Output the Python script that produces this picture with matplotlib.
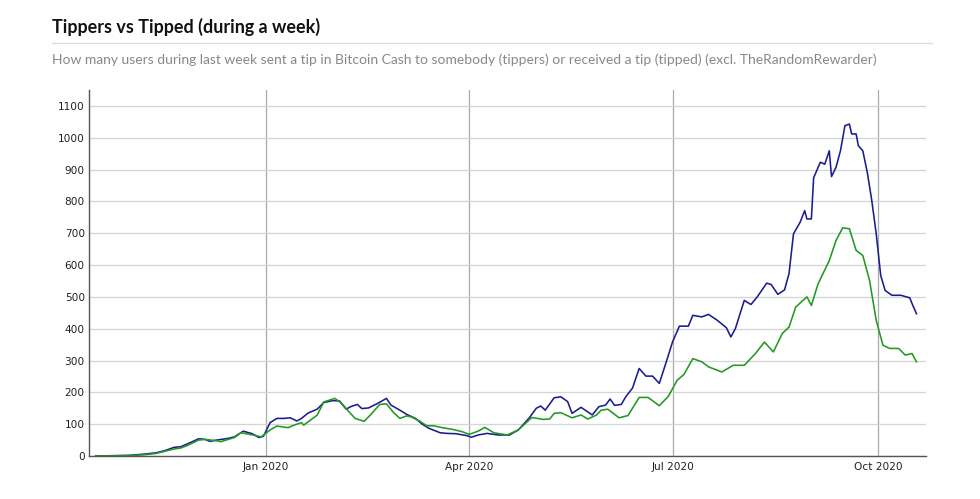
import pandas as pd
import matplotlib.pyplot as plt

# ==========================================
# DATA
# ==========================================
tippers_dates = [
    "2019-10-17", "2019-11-01", "2019-11-08", "2019-11-13", "2019-11-17", "2019-11-21",
    "2019-11-24", "2019-11-27", "2019-12-02", "2019-12-05", "2019-12-07", "2019-12-11",
    "2019-12-15", "2019-12-18", "2019-12-22", "2019-12-26", "2019-12-29", "2019-12-31",
    "2020-01-03", "2020-01-06", "2020-01-09", "2020-01-12", "2020-01-15", "2020-01-17",
    "2020-01-20", "2020-01-24", "2020-01-27", "2020-01-31", "2020-02-03", "2020-02-06",
    "2020-02-08", "2020-02-11", "2020-02-13", "2020-02-16", "2020-02-20", "2020-02-24",
    "2020-02-26", "2020-03-01", "2020-03-04", "2020-03-08", "2020-03-11", "2020-03-14",
    "2020-03-19", "2020-03-22", "2020-03-26", "2020-03-31", "2020-04-02", "2020-04-05",
    "2020-04-09", "2020-04-14", "2020-04-19", "2020-04-23", "2020-04-28", "2020-05-01",
    "2020-05-03", "2020-05-05", "2020-05-09", "2020-05-12", "2020-05-15", "2020-05-17",
    "2020-05-21", "2020-05-26", "2020-05-29", "2020-06-01", "2020-06-03", "2020-06-05",
    "2020-06-08", "2020-06-10", "2020-06-13", "2020-06-16", "2020-06-19", "2020-06-22",
    "2020-06-25", "2020-06-28", "2020-07-01", "2020-07-04", "2020-07-08", "2020-07-10",
    "2020-07-14", "2020-07-17", "2020-07-21", "2020-07-25", "2020-07-27", "2020-07-29",
    "2020-08-02", "2020-08-05", "2020-08-08", "2020-08-12", "2020-08-14", "2020-08-17",
    "2020-08-20", "2020-08-22", "2020-08-24", "2020-08-27", "2020-08-29", "2020-08-30",
    "2020-09-01", "2020-09-02", "2020-09-05", "2020-09-07", "2020-09-09", "2020-09-10",
    "2020-09-12", "2020-09-14", "2020-09-16", "2020-09-18", "2020-09-19", "2020-09-21",
    "2020-09-22", "2020-09-24", "2020-09-26", "2020-09-28", "2020-09-30", "2020-10-02",
    "2020-10-04", "2020-10-07", "2020-10-11", "2020-10-15", "2020-10-16", "2020-10-18",
]
tippers_values = [
    0, 2, 6, 10, 17, 27,
    29, 38, 54, 52, 46, 51,
    55, 60, 78, 70, 58, 62,
    105, 118, 118, 120, 110, 118,
    135, 147, 168, 174, 173, 147,
    155, 162, 149, 151, 165, 181,
    160, 144, 131, 118, 100, 87,
    73, 71, 70, 64, 59, 66,
    71, 66, 66, 82, 121, 150,
    157, 144, 183, 186, 171, 134,
    153, 129, 155, 160, 179, 159,
    162, 186, 213, 275, 251, 251,
    228, 293, 360, 408, 408, 442,
    437, 445, 426, 403, 374, 400,
    489, 476, 502, 543, 539, 508,
    522, 573, 698, 735, 771, 745,
    745, 874, 923, 917, 959, 878,
    907, 959, 1038, 1043, 1012, 1012,
    975, 959, 891, 803, 698, 567,
    520, 505, 505, 497, 479, 447,
]

tipped_dates = [
    "2019-10-17", "2019-11-01", "2019-11-08", "2019-11-13", "2019-11-17", "2019-11-21",
    "2019-11-24", "2019-11-27", "2019-12-02", "2019-12-05", "2019-12-10", "2019-12-12",
    "2019-12-18", "2019-12-21", "2019-12-27", "2019-12-30", "2020-01-03", "2020-01-06",
    "2020-01-11", "2020-01-13", "2020-01-17", "2020-01-18", "2020-01-22", "2020-01-24",
    "2020-01-27", "2020-02-01", "2020-02-04", "2020-02-07", "2020-02-10", "2020-02-14",
    "2020-02-17", "2020-02-21", "2020-02-24", "2020-02-27", "2020-03-01", "2020-03-04",
    "2020-03-06", "2020-03-10", "2020-03-13", "2020-03-16", "2020-03-20", "2020-03-25",
    "2020-03-29", "2020-04-01", "2020-04-05", "2020-04-08", "2020-04-12", "2020-04-18",
    "2020-04-23", "2020-04-29", "2020-05-04", "2020-05-07", "2020-05-09", "2020-05-12",
    "2020-05-17", "2020-05-21", "2020-05-24", "2020-05-28", "2020-05-30", "2020-06-02",
    "2020-06-07", "2020-06-11", "2020-06-16", "2020-06-20", "2020-06-25", "2020-06-29",
    "2020-07-03", "2020-07-06", "2020-07-10", "2020-07-14", "2020-07-17", "2020-07-23",
    "2020-07-28", "2020-08-02", "2020-08-07", "2020-08-11", "2020-08-15", "2020-08-19",
    "2020-08-22", "2020-08-25", "2020-08-30", "2020-09-01", "2020-09-04", "2020-09-09",
    "2020-09-12", "2020-09-15", "2020-09-18", "2020-09-21", "2020-09-24", "2020-09-27",
    "2020-09-30", "2020-10-03", "2020-10-06", "2020-10-10", "2020-10-13", "2020-10-16",
    "2020-10-18",
]
tipped_values = [
    0, 1, 4, 8, 15, 22,
    25, 33, 50, 52, 48, 45,
    58, 73, 65, 60, 82, 94,
    89, 95, 105, 97, 118, 128,
    170, 181, 165, 141, 118, 109,
    130, 162, 164, 138, 118, 126,
    123, 109, 95, 95, 89, 83,
    76, 68, 78, 90, 73, 66,
    82, 121, 115, 116, 134, 136,
    120, 129, 116, 129, 144, 147,
    120, 127, 184, 184, 158, 187,
    238, 256, 306, 296, 280, 264,
    285, 285, 322, 358, 327, 385,
    405, 468, 500, 473, 541, 614,
    677, 717, 714, 646, 630, 552,
    426, 348, 338, 338, 317, 322,
    296,
]

x_ticks = ["2020-01-01", "2020-04-01", "2020-07-01", "2020-10-01"]
x_tick_labels = ["Jan 2020", "Apr 2020", "Jul 2020", "Oct 2020"]
y_ticks = list(range(0, 1200, 100))

TITLE = "Tippers vs Tipped (during a week)"
SUBTITLE = ("How many users during last week sent a tip in Bitcoin Cash to somebody "
            "(tippers) or received a tip (tipped) (excl. TheRandomRewarder)")


def main():
    tippers = pd.Series(tippers_values, index=pd.to_datetime(tippers_dates))
    tipped = pd.Series(tipped_values, index=pd.to_datetime(tipped_dates))

    fig = plt.figure(figsize=(9.8, 4.99), dpi=100)
    ax = fig.add_axes([0.0908, 0.0862, 0.8541, 0.7334])

    # header: title, thin rule, grey subtitle
    fig.text(0.053, 0.934, TITLE, fontsize=12.9, fontweight='bold',
             family=['Lato', 'DejaVu Sans'], color='#111111', va='baseline')
    fig.add_artist(plt.Line2D([0.053, 0.951], [0.914, 0.914],
                              transform=fig.transFigure, color='#dddddd', lw=1))
    fig.text(0.053, 0.872, SUBTITLE, fontsize=10.03,
             family=['Lato', 'DejaVu Sans'], color='#888888', va='baseline')

    ax.plot(tippers.index, tippers.values, color='#1c1c8f', lw=1.15)
    ax.plot(tipped.index, tipped.values, color='#229922', lw=1.15)

    ax.set_xlim(pd.Timestamp("2019-10-14"), pd.Timestamp("2020-10-22 06:00"))
    ax.set_ylim(0, 1150)

    ax.set_yticks(y_ticks)
    ax.set_xticks(pd.to_datetime(x_ticks))
    ax.set_xticklabels(x_tick_labels)
    ax.tick_params(length=0, labelsize=7.6, colors='#222222', pad=4)
    ax.tick_params(axis='y', pad=3)

    ax.grid(axis='y', color='#d4d4d4', lw=0.9)
    ax.grid(axis='x', color='#aaaaaa', lw=0.9)
    ax.set_axisbelow(True)

    for side in ['top', 'right']:
        ax.spines[side].set_visible(False)
    for side in ['left', 'bottom']:
        ax.spines[side].set_color('#555555')
        ax.spines[side].set_linewidth(1)

    fig.savefig("out.png", dpi=100)
    plt.close(fig)


if __name__ == "__main__":
    main()
